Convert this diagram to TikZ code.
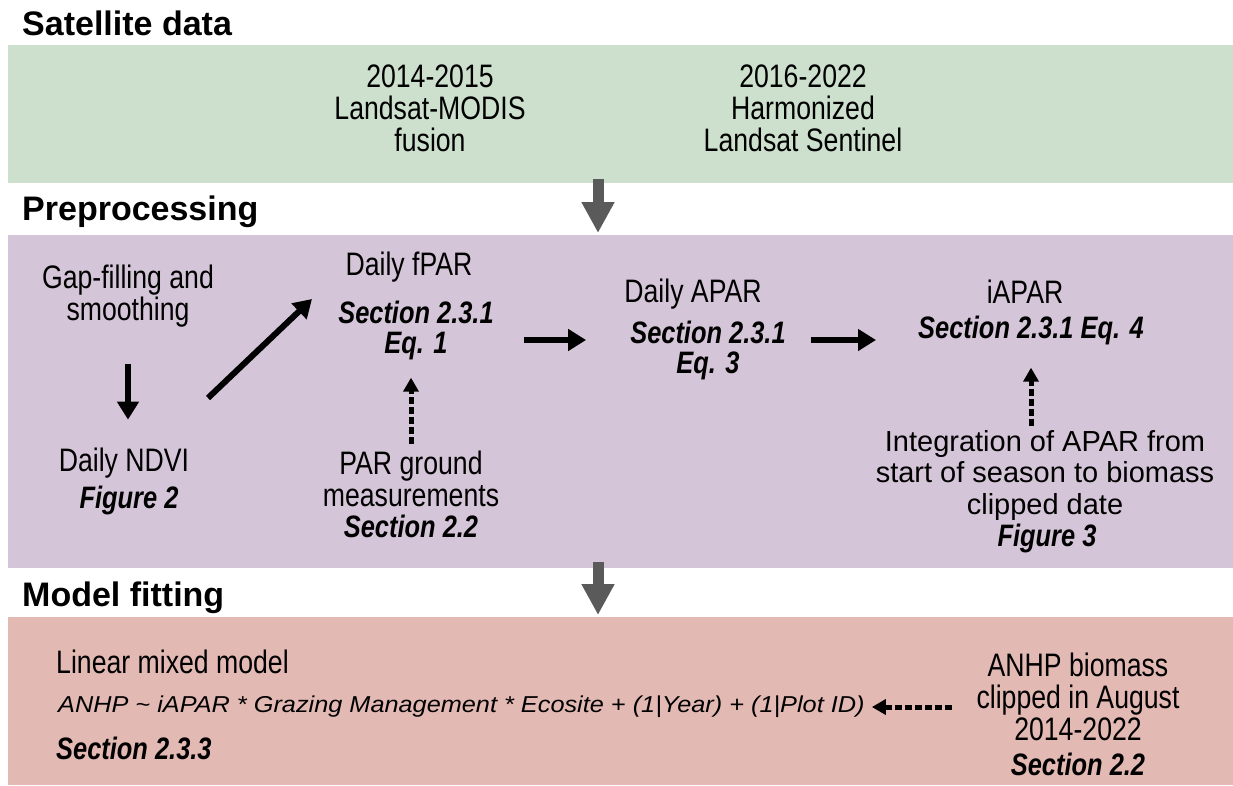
\documentclass[tikz,border=0pt]{standalone}
\usepackage{fontspec}
\setmainfont{Liberation Sans}
\newfontfamily\narrow[FakeStretch=0.82]{Liberation Sans}
\newfontfamily\wideit[FakeStretch=1.1]{Liberation Sans}
\usetikzlibrary{arrows.meta}
\definecolor{satgreen}{RGB}{204,224,205}
\definecolor{prepurple}{RGB}{213,197,216}
\definecolor{fitpink}{RGB}{227,185,180}
\definecolor{arrowgray}{RGB}{90,90,90}
\tikzset{
  head/.style={font=\bfseries\fontsize{34}{36}\selectfont, anchor=west, inner sep=0pt},
  txt/.style={font=\narrow\fontsize{32.5}{32}\selectfont, align=center, inner sep=0pt},
  sec/.style={font=\narrow\bfseries\itshape\fontsize{31}{30}\selectfont, align=center, inner sep=0pt},
  reg/.style={font=\fontsize{29}{31.5}\selectfont, align=center, inner sep=0pt},
  frm/.style={font=\wideit\itshape\fontsize{23}{27}\selectfont, anchor=west, inner sep=0pt},
  band/.style={draw=none, inner sep=0pt, anchor=north west},
  grayarrow/.style={draw=arrowgray, line width=11pt, -{Triangle[length=31pt,width=31pt]}},
  blk/.style={draw=black, line width=6pt, -{Triangle[length=18pt,width=21pt]}},
  dsh/.style={draw=black, line width=5pt, dash pattern=on 7pt off 3pt, -{Triangle[length=14pt,width=15pt]}}
}
\begin{document}
\begin{tikzpicture}[x=1pt,y=-1pt]
\useasboundingbox (0,0) rectangle (1233,785);
% bands
\node[band, fill=satgreen, minimum width=1225pt, minimum height=138pt] (sat) at (8,45) {};
\node[band, fill=prepurple, minimum width=1225pt, minimum height=333pt] (pre) at (8,235) {};
\node[band, fill=fitpink, minimum width=1225pt, minimum height=168pt] (fit) at (8,617) {};
% headings
\node[head] (h1) at (22,23) {Satellite data};
\node[head] (h2) at (22,212) {Preprocessing};
\node[head] (h3) at (22,598) {Model fitting};
% satellite data
\node[txt] (s1) at (430,108) {2014-2015\\Landsat-MODIS\\fusion};
\node[txt] (s2) at (803,108) {2016-2022\\Harmonized\\Landsat Sentinel};
% preprocessing
\node[txt] (gap) at (128,296) {Gap-filling and\\smoothing};
\node[txt] (ndvi) at (124,463) {Daily NDVI};
\node[sec] (fig2) at (129,500) {Figure 2};
\node[txt] (fpar) at (409,267) {Daily fPAR};
\node[sec] (fparsec) at (416,330) {Section 2.3.1\\Eq. 1};
\node[txt] (par) at (411,479) {PAR ground\\measurements};
\node[sec] (parsec) at (411,526) {Section 2.2};
\node[txt] (apar) at (693,294) {Daily APAR};
\node[sec] (aparsec) at (708,350) {Section 2.3.1\\Eq. 3};
\node[txt] (iapar) at (1025,292) {iAPAR};
\node[sec] (iaparsec) at (1031,330) {Section 2.3.1 Eq. 4};
\node[reg] (integ) at (1045,475) {Integration of APAR from\\start of season to biomass\\clipped date};
\node[sec] (fig3) at (1047,538) {Figure 3};
% model fitting
\node[txt, anchor=west] (lmm) at (56,662) {Linear mixed model};
\node[frm] (form) at (58,707) {ANHP \textasciitilde{} iAPAR * Grazing Management * Ecosite + (1|Year) + (1|Plot ID)};
\node[sec, anchor=west] (sec233) at (56,748) {Section 2.3.3};
\node[txt] (anhp) at (1078,697) {ANHP biomass\\clipped in August\\2014-2022};
\node[sec] (anhpsec) at (1078,764) {Section 2.2};
% helper coordinates
\coordinate (gx) at (598,0);
\coordinate (ry) at (0,340);
\coordinate (ux) at (1031,0);
\coordinate (d1) at (208,398);
\coordinate (d2) at (312,299);
% gray arrows
\draw[grayarrow, shorten <=-4pt, shorten >=2pt] (gx |- sat.south) -- (gx |- pre.north);
\draw[grayarrow, shorten <=-6pt, shorten >=2pt] (gx |- pre.south) -- (gx |- fit.north);
% black arrows
\draw[blk, shorten <=37pt, shorten >=28pt] (gap.south) -- (gap.south |- ndvi.north);
\draw[blk] (d1) -- (d2);
\draw[blk, shorten <=30pt, shorten >=44pt] (fparsec.east |- ry) -- (aparsec.west |- ry);
\draw[blk, shorten <=25pt, shorten >=42pt] (aparsec.east |- ry) -- (iaparsec.west |- ry);
% dashed arrows
\draw[dsh, shorten <=7pt, shorten >=18pt] (par.north) -- (par.north |- fparsec.south);
\draw[dsh, shorten <=4pt, shorten >=23pt] (ux |- integ.north) -- (ux |- iaparsec.south);
\draw[dsh, shorten <=24pt, shorten >=7pt] (anhp.west |- form.east) -- (form.east);
\end{tikzpicture}
\end{document}
